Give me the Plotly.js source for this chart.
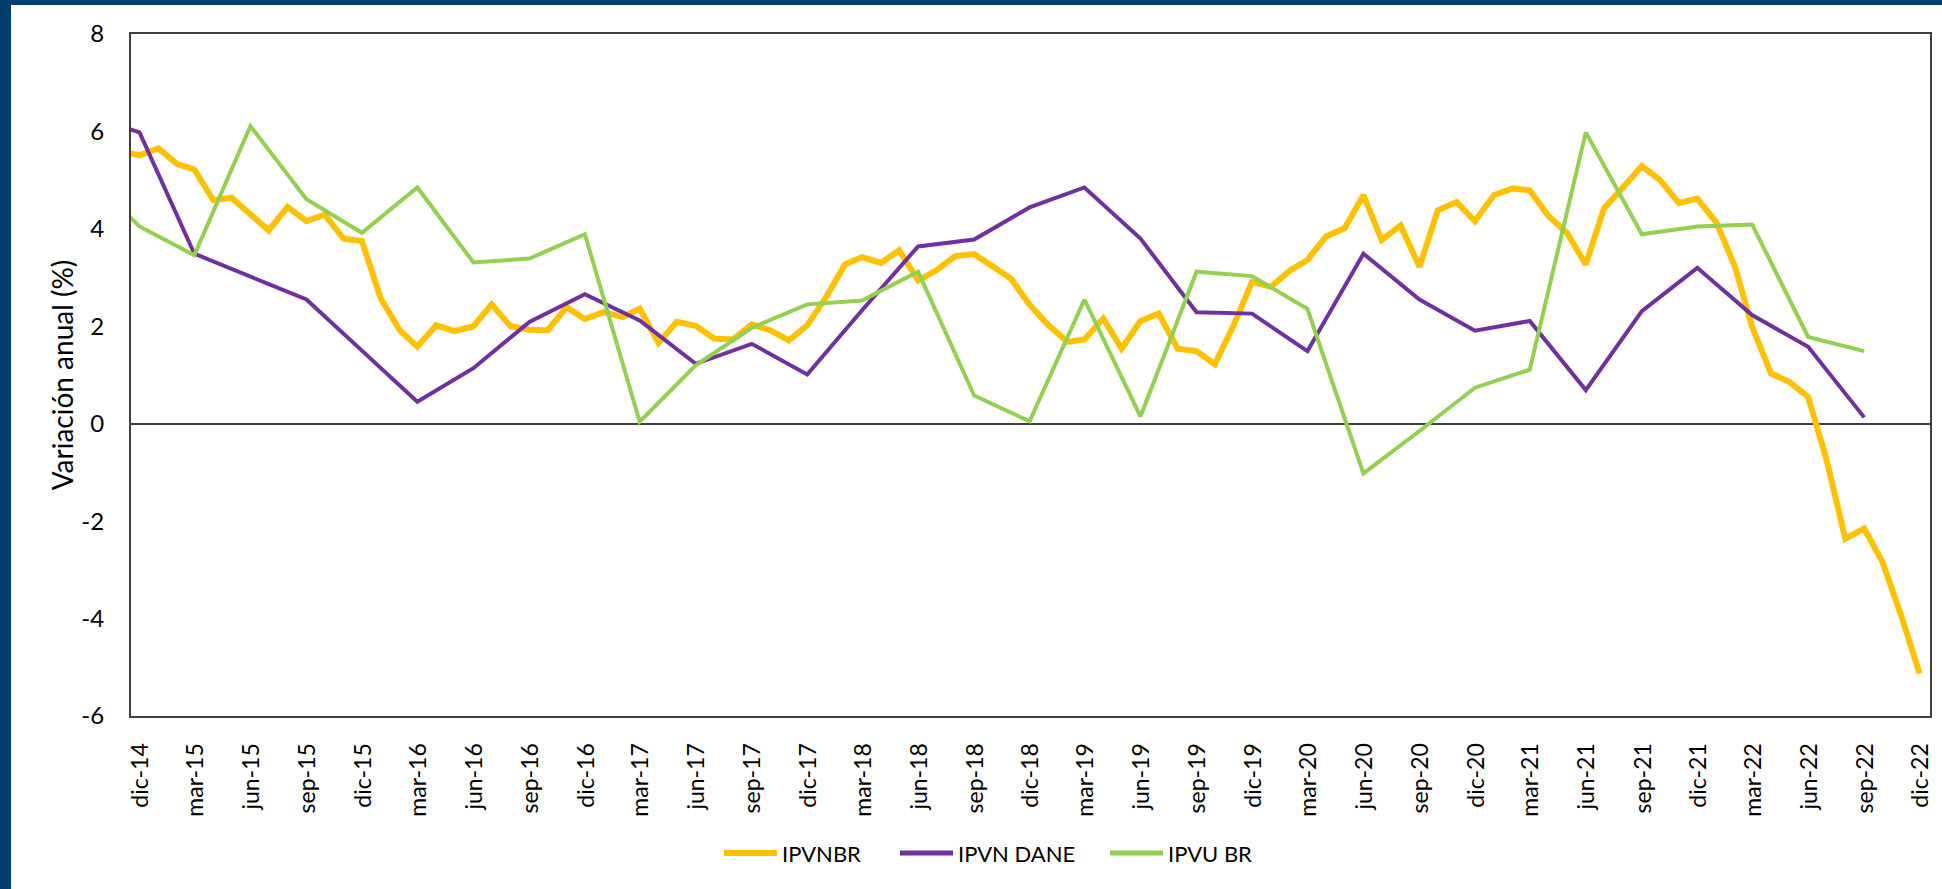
<!DOCTYPE html>
<html>
<head>
<meta charset="utf-8">
<script src="https://cdn.plot.ly/plotly-3.0.1.min.js"></script>
<style>
  html, body { margin: 0; padding: 0; background: #ffffff; width: 1942px; height: 889px; overflow: hidden; }
  #chart { position: absolute; left: 0; top: 0; width: 1942px; height: 889px; }
  .band { position: absolute; background: #003F6E; z-index: 5; }
</style>
</head>
<body>
<div class="band" style="left:0;top:0;width:11px;height:889px;"></div>
<div class="band" style="left:0;top:0;width:1942px;height:5px;"></div>
<div id="chart"></div>
<script>
// ---- Data ----
// Monthly series IPVNBR, first value = nov-14 (partly outside the plotted range)
const ipvnbrStartYear = 2014, ipvnbrStartMonth = 11;
const ipvnbr = [
  5.59, 5.51,
  5.65, 5.33, 5.22, 4.59, 4.64, 4.29, 3.97, 4.45, 4.16, 4.29, 3.80, 3.75,
  2.57, 1.92, 1.58, 2.02, 1.90, 2.00, 2.45, 2.00, 1.93, 1.92, 2.39, 2.15,
  2.29, 2.19, 2.36, 1.66, 2.09, 2.01, 1.75, 1.73, 2.04, 1.92, 1.71, 2.02,
  2.60, 3.27, 3.42, 3.30, 3.56, 2.94, 3.15, 3.44, 3.48, 3.23, 2.97, 2.44,
  2.02, 1.68, 1.73, 2.16, 1.54, 2.11, 2.26, 1.54, 1.49, 1.22, 2.02, 2.91,
  2.81, 3.14, 3.36, 3.85, 4.01, 4.69, 3.77, 4.07, 3.22, 4.38, 4.55, 4.16,
  4.69, 4.83, 4.79, 4.26, 3.92, 3.27, 4.42, 4.85, 5.29, 5.00, 4.53, 4.62,
  4.14, 3.22, 1.99, 1.03, 0.86, 0.55, -0.73, -2.36, -2.15, -2.84, -3.95, -5.13
];
// Quarterly series, first value = sep-14 (partly outside the plotted range)
const quarterlyStartYear = 2014, quarterlyStartMonth = 9;
const ipvnDane = [
  6.34, 5.98, 3.49, 3.02, 2.55, 1.50, 0.45, 1.14, 2.09, 2.66, 2.12, 1.23,
  1.64, 1.01, 2.33, 3.64, 3.78, 4.44, 4.85, 3.80, 2.29, 2.26, 1.49, 3.49,
  2.55, 1.91, 2.11, 0.69, 2.31, 3.20, 2.23, 1.58, 0.13
];
const ipvuBr = [
  5.13, 4.05, 3.46, 6.11, 4.61, 3.92, 4.85, 3.31, 3.39, 3.89, 0.04, 1.20,
  1.97, 2.45, 2.53, 3.12, 0.58, 0.05, 2.55, 0.15, 3.12, 3.03, 2.36, -1.02,
  -0.15, 0.74, 1.11, 5.98, 3.89, 4.05, 4.09, 1.78, 1.49
];
const seriesNames = ['IPVNBR', 'IPVN DANE', 'IPVU BR'];
const seriesColors = ['#FFC000', '#7030A0', '#92D050'];
const tickLabels = [
  'dic-14','mar-15','jun-15','sep-15','dic-15','mar-16','jun-16','sep-16',
  'dic-16','mar-17','jun-17','sep-17','dic-17','mar-18','jun-18','sep-18',
  'dic-18','mar-19','jun-19','sep-19','dic-19','mar-20','jun-20','sep-20',
  'dic-20','mar-21','jun-21','sep-21','dic-21','mar-22','jun-22','sep-22','dic-22'
];
const yTicks = [-6, -4, -2, 0, 2, 4, 6, 8];
const yTickText = ['-6', '-4', '-2', '0', '2', '4', '6', '8'];

// ---- helpers ----
function monthDate(y, m, add, d) {
  const mm = (m - 1) + add;
  const yy = y + Math.floor(mm / 12);
  const m2 = (mm % 12) + 1;
  return yy + '-' + String(m2).padStart(2, '0') + '-' + String(d).padStart(2, '0');
}
const xMonthly = ipvnbr.map((_, i) => monthDate(ipvnbrStartYear, ipvnbrStartMonth, i, 15));
const xQuarterly = ipvnDane.map((_, i) => monthDate(quarterlyStartYear, quarterlyStartMonth, 3 * i, 15));
const tickDates = tickLabels.map((_, i) => monthDate(2014, 12, 3 * i, 1));
const labelDates = tickLabels.map((_, i) => monthDate(2014, 12, 3 * i, 17));
const xRange = ['2014-12-01', '2023-01-01'];

const FONT = 'Lato, "Open Sans", sans-serif';
const AX = '#404040';

// plot area in pixels
const PL = 131, PR = 1930, PT = 34, PB = 716;
const px2x = p => (p - PL) / (PR - PL);
const px2y = p => (PB - p) / (PB - PT);

const widths = [6, 4, 4];
const traces = seriesNames.map((n, i) => ({
  x: i === 0 ? xMonthly : xQuarterly,
  y: [ipvnbr, ipvnDane, ipvuBr][i],
  name: n, type: 'scatter', mode: 'lines', showlegend: false,
  line: { color: seriesColors[i], width: widths[i] }
}));

// custom legend (line samples + labels), positioned like the reference
const legendLineStart = [724, 900, 1110];
const legendLineLen = 53;
const legendY = px2y(853);
const shapes = [];
const annotations = [];
seriesNames.forEach((n, i) => {
  shapes.push({
    type: 'line', xref: 'paper', yref: 'paper',
    x0: px2x(legendLineStart[i]), x1: px2x(legendLineStart[i] + legendLineLen),
    y0: legendY, y1: legendY,
    line: { color: seriesColors[i], width: i === 0 ? 6 : 5 }
  });
  annotations.push({
    xref: 'paper', yref: 'paper', x: px2x(legendLineStart[i] + legendLineLen + 3), y: legendY,
    xanchor: 'left', yanchor: 'middle', showarrow: false, text: n,
    font: { family: FONT, size: 22, color: '#000000' }
  });
});

const layout = {
  width: 1942, height: 889,
  margin: { l: PL, r: 1942 - PR, t: PT, b: 889 - PB },
  paper_bgcolor: 'rgba(0,0,0,0)',
  plot_bgcolor: '#ffffff',
  font: { family: FONT, color: '#000000', size: 22 },
  showlegend: false,
  shapes: shapes,
  annotations: annotations,
  xaxis: {
    type: 'date', range: xRange,
    showline: true, mirror: true, linecolor: AX, linewidth: 2,
    showgrid: false, zeroline: false, ticks: '',
    tickmode: 'array', tickvals: labelDates, ticktext: tickLabels,
    tickangle: -90, tickfont: { family: FONT, size: 23, color: '#000000' },
    ticklabelstandoff: 16
  },
  xaxis2: {
    type: 'date', range: xRange, overlaying: 'x', anchor: 'free', position: 6 / 14, side: 'bottom',
    showline: false, showgrid: false, zeroline: false,
    ticks: 'outside', ticklen: 8, tickwidth: 2, tickcolor: AX,
    tickmode: 'array', tickvals: tickDates, showticklabels: false, layer: 'above traces'
  },
  yaxis: {
    range: [-6, 8], tickmode: 'array', tickvals: yTicks, ticktext: yTickText,
    showline: true, mirror: true, linecolor: AX, linewidth: 2,
    showgrid: false, zeroline: true, zerolinecolor: AX, zerolinewidth: 2,
    ticks: '', tickfont: { family: FONT, size: 24, color: '#000000' },
    ticklabelstandoff: 20,
    title: { text: 'Variación anual (%)', font: { family: FONT, size: 28, color: '#000000' }, standoff: 0 }
  }
};

Plotly.newPlot('chart', traces, layout, { staticPlot: true, displayModeBar: false });
</script>
</body>
</html>
